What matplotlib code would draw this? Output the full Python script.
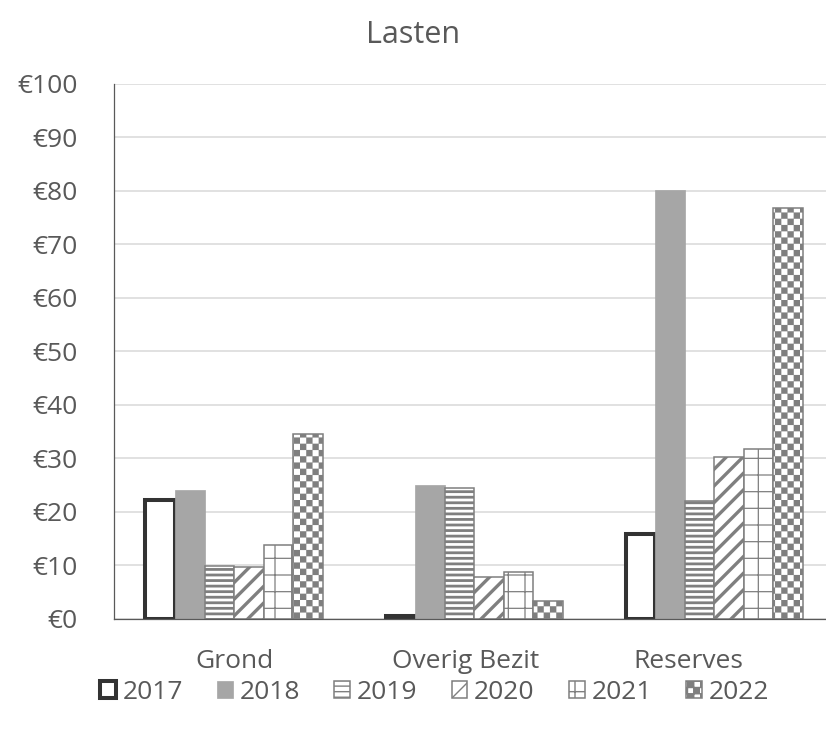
import warnings
import numpy as np
import matplotlib
matplotlib.use("Agg")
import matplotlib.pyplot as plt
import matplotlib.hatch as mhatch
import matplotlib.transforms as mtransforms
from matplotlib.path import Path
from matplotlib.ticker import FuncFormatter

warnings.filterwarnings("ignore")

# data
categories = ["Grond", "Overig Bezit", "Reserves"]
years = ["2017", "2018", "2019", "2020", "2021", "2022"]
v2017 = [22.3, 0.5, 15.9]
v2018 = [24.1, 25.1, 80.2]
v2019 = [9.9, 24.4, 22.1]
v2020 = [9.7, 7.9, 30.2]
v2021 = [13.8, 8.8, 31.8]
v2022 = [34.5, 3.3, 76.8]
series = [v2017, v2018, v2019, v2020, v2021, v2022]


# checkerboard hatch ('c'), matplotlib has none built in
class CheckerHatch(mhatch.HatchPatternBase):
    def __init__(self, hatch, density):
        self.n = 16 if "c" in hatch else 0
        self.cells = [(i, j) for i in range(self.n) for j in range(self.n)
                      if (i + j) % 2 == 0]
        self.num_vertices = len(self.cells) * 5
        self.filled = True

    def set_vertices_and_codes(self, vertices, codes):
        s = 1.0 / self.n
        for k, (i, j) in enumerate(self.cells):
            x, y = i * s, j * s
            vertices[5 * k:5 * k + 5] = [(x, y), (x + s, y), (x + s, y + s),
                                         (x, y + s), (x, y)]
            codes[5 * k:5 * k + 5] = [Path.MOVETO, Path.LINETO, Path.LINETO,
                                      Path.LINETO, Path.CLOSEPOLY]


mhatch._hatch_types.append(CheckerHatch)

text_col = "#595959"
plt.rcParams["font.family"] = ["Open Sans", "DejaVu Sans"]

styles = [
    dict(facecolor="white", edgecolor="#333333", linewidth=2.9, hatch=None, hlw=1.0),
    dict(facecolor="#a6a6a6", edgecolor="#a6a6a6", linewidth=0.5, hatch=None, hlw=1.0),
    dict(facecolor="white", edgecolor="#7f7f7f", linewidth=1.1, hatch="---", hlw=2.0),
    dict(facecolor="white", edgecolor="#7f7f7f", linewidth=1.1, hatch="//", hlw=2.4),
    dict(facecolor="white", edgecolor="#7f7f7f", linewidth=1.1, hatch="+", hlw=0.9),
    dict(facecolor="white", edgecolor="#7f7f7f", linewidth=1.1, hatch="c", hlw=0.1),
]

fig = plt.figure(figsize=(8.26, 7.29), dpi=100)
# plot area runs a little past the right edge of the picture, as in the original
ax = fig.add_axes([0.138, 0.151, 0.872, 0.734])

x = np.arange(len(categories))
width = 0.123
handles = []
for k, (vals, st) in enumerate(zip(series, styles)):
    offs = (k - 2.5) * width
    with plt.rc_context({"hatch.linewidth": st["hlw"]}):
        bars = ax.bar(x + offs, vals, width, facecolor=st["facecolor"],
                      edgecolor=st["edgecolor"], linewidth=st["linewidth"],
                      hatch=st["hatch"], label=years[k], zorder=3)
        for b in bars:
            if hasattr(b, "set_hatch_linewidth"):
                b.set_hatch_linewidth(st["hlw"])
    handles.append(bars)

ax.set_xlim(-0.5, 2.5)
ax.set_ylim(0, 100)
ax.set_yticks(np.arange(0, 101, 10))
ax.yaxis.set_major_formatter(FuncFormatter(lambda v, p: f"€{v:.0f}"))
ax.set_xticks(x)
ax.set_xticklabels(categories)
ax.grid(axis="y", color="#d9d9d9", linewidth=1.1, zorder=0)
ax.set_axisbelow(True)
for s in ["top", "right"]:
    ax.spines[s].set_visible(False)
ax.spines["left"].set_color("#595959")
ax.spines["left"].set_linewidth(0.9)
ax.spines["bottom"].set_color("#595959")
ax.spines["bottom"].set_linewidth(0.9)
ax.spines["bottom"].set_zorder(4)
ax.tick_params(axis="both", length=0, labelsize=19, labelcolor=text_col)
ax.tick_params(axis="y", pad=26)
ax.tick_params(axis="x", pad=22)

# category labels sit a bit left of the groups (labels kept inside the visible area)
for lab, dx in zip(ax.get_xticklabels(), [0, -6, -19]):
    lab.set_transform(lab.get_transform() +
                      mtransforms.ScaledTranslation(dx / 72, 0, fig.dpi_scale_trans))

fig.text(0.5, 0.952, "Lasten", ha="center", va="center", fontsize=22, color=text_col)

leg = fig.legend(handles=handles, labels=years, loc="center", bbox_to_anchor=(0.526, 0.05),
                 ncol=6, frameon=False, fontsize=19, handlelength=0.6, handleheight=0.6,
                 handletextpad=0.25, columnspacing=1.3, labelcolor=text_col)

fig.savefig("out.png", dpi=100)
